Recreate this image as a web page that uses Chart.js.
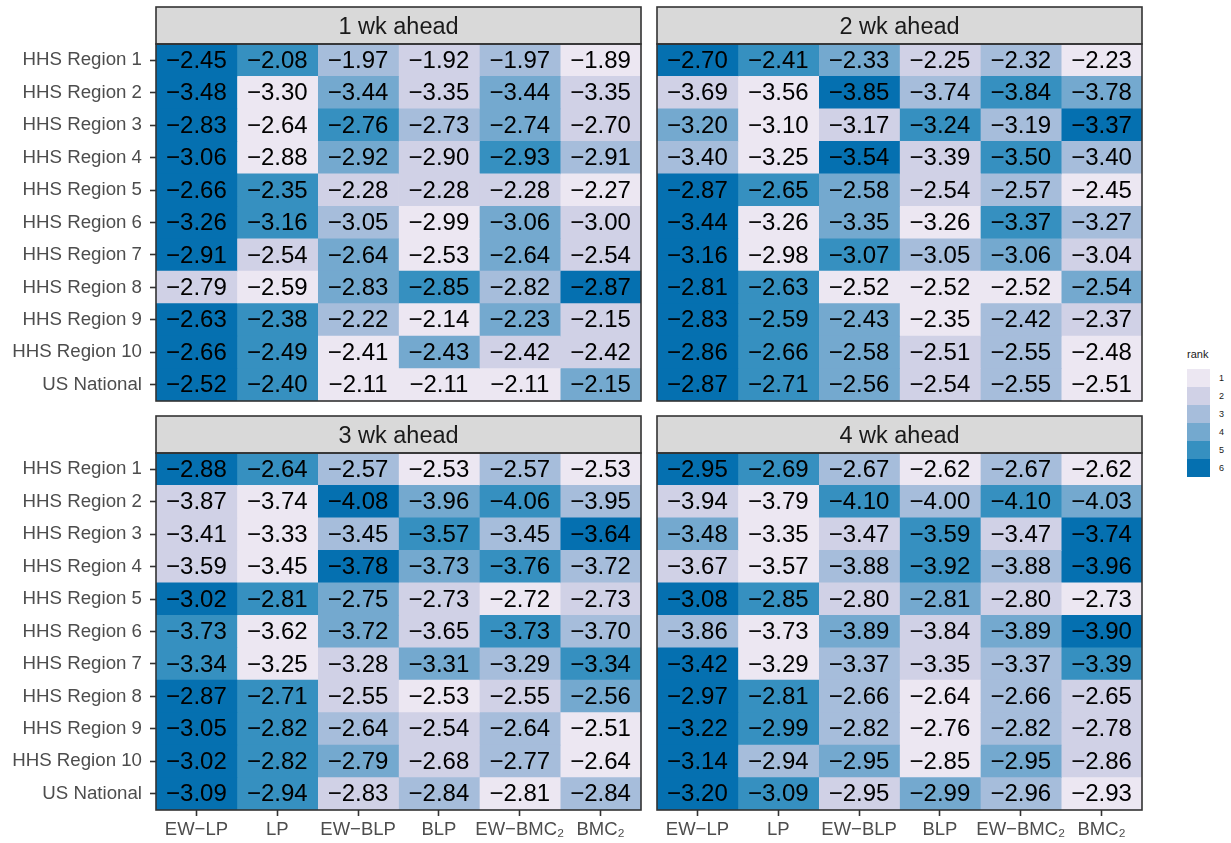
<!DOCTYPE html>
<html>
<head>
<meta charset="utf-8">
<title>Log scores by region and horizon</title>
<script src="https://cdn.jsdelivr.net/npm/chart.js@4.4.1/dist/chart.umd.min.js"></script>
<style>
  html, body { margin: 0; padding: 0; background: #ffffff; }
  body { width: 1231px; height: 843px; position: relative; overflow: hidden;
         font-family: "Liberation Sans", Arial, Helvetica, sans-serif; }
  canvas { position: absolute; }
  #legend { position: absolute; left: 1187px; top: 344px; color: #1a1a1a; }
  #legend .title { font-size: 11px; height: 25px; line-height: 20px; }
  #legend .row { position: relative; height: 18px; }
  #legend .key { position: absolute; left: 0; top: 0; width: 23px; height: 18px; }
  #legend .lab { position: absolute; left: 32px; top: 0; line-height: 18px; font-size: 9px; }
</style>
</head>
<body>
<canvas id="p1" width="650" height="406" style="left:0px;top:0px"></canvas>
<canvas id="p2" width="500" height="406" style="left:650px;top:0px"></canvas>
<canvas id="p3" width="650" height="433" style="left:0px;top:410px"></canvas>
<canvas id="p4" width="500" height="433" style="left:650px;top:410px"></canvas>
<div id="legend"></div>

<script>
// ---- data ----
const METHODS = ['EW\u2212LP', 'LP', 'EW\u2212BLP', 'BLP', 'EW\u2212BMC\u2082', 'BMC\u2082'];
const REGIONS = ['HHS Region 1', 'HHS Region 2', 'HHS Region 3', 'HHS Region 4', 'HHS Region 5',
                 'HHS Region 6', 'HHS Region 7', 'HHS Region 8', 'HHS Region 9', 'HHS Region 10',
                 'US National'];
const HORIZONS = ['1 wk ahead', '2 wk ahead', '3 wk ahead', '4 wk ahead'];

// one row per region, one column per method
const WK1_SCORES = [
  [-2.45, -2.08, -1.97, -1.92, -1.97, -1.89],
  [-3.48, -3.30, -3.44, -3.35, -3.44, -3.35],
  [-2.83, -2.64, -2.76, -2.73, -2.74, -2.70],
  [-3.06, -2.88, -2.92, -2.90, -2.93, -2.91],
  [-2.66, -2.35, -2.28, -2.28, -2.28, -2.27],
  [-3.26, -3.16, -3.05, -2.99, -3.06, -3.00],
  [-2.91, -2.54, -2.64, -2.53, -2.64, -2.54],
  [-2.79, -2.59, -2.83, -2.85, -2.82, -2.87],
  [-2.63, -2.38, -2.22, -2.14, -2.23, -2.15],
  [-2.66, -2.49, -2.41, -2.43, -2.42, -2.42],
  [-2.52, -2.40, -2.11, -2.11, -2.11, -2.15]
];
const WK2_SCORES = [
  [-2.70, -2.41, -2.33, -2.25, -2.32, -2.23],
  [-3.69, -3.56, -3.85, -3.74, -3.84, -3.78],
  [-3.20, -3.10, -3.17, -3.24, -3.19, -3.37],
  [-3.40, -3.25, -3.54, -3.39, -3.50, -3.40],
  [-2.87, -2.65, -2.58, -2.54, -2.57, -2.45],
  [-3.44, -3.26, -3.35, -3.26, -3.37, -3.27],
  [-3.16, -2.98, -3.07, -3.05, -3.06, -3.04],
  [-2.81, -2.63, -2.52, -2.52, -2.52, -2.54],
  [-2.83, -2.59, -2.43, -2.35, -2.42, -2.37],
  [-2.86, -2.66, -2.58, -2.51, -2.55, -2.48],
  [-2.87, -2.71, -2.56, -2.54, -2.55, -2.51]
];
const WK3_SCORES = [
  [-2.88, -2.64, -2.57, -2.53, -2.57, -2.53],
  [-3.87, -3.74, -4.08, -3.96, -4.06, -3.95],
  [-3.41, -3.33, -3.45, -3.57, -3.45, -3.64],
  [-3.59, -3.45, -3.78, -3.73, -3.76, -3.72],
  [-3.02, -2.81, -2.75, -2.73, -2.72, -2.73],
  [-3.73, -3.62, -3.72, -3.65, -3.73, -3.70],
  [-3.34, -3.25, -3.28, -3.31, -3.29, -3.34],
  [-2.87, -2.71, -2.55, -2.53, -2.55, -2.56],
  [-3.05, -2.82, -2.64, -2.54, -2.64, -2.51],
  [-3.02, -2.82, -2.79, -2.68, -2.77, -2.64],
  [-3.09, -2.94, -2.83, -2.84, -2.81, -2.84]
];
const WK4_SCORES = [
  [-2.95, -2.69, -2.67, -2.62, -2.67, -2.62],
  [-3.94, -3.79, -4.10, -4.00, -4.10, -4.03],
  [-3.48, -3.35, -3.47, -3.59, -3.47, -3.74],
  [-3.67, -3.57, -3.88, -3.92, -3.88, -3.96],
  [-3.08, -2.85, -2.80, -2.81, -2.80, -2.73],
  [-3.86, -3.73, -3.89, -3.84, -3.89, -3.90],
  [-3.42, -3.29, -3.37, -3.35, -3.37, -3.39],
  [-2.97, -2.81, -2.66, -2.64, -2.66, -2.65],
  [-3.22, -2.99, -2.82, -2.76, -2.82, -2.78],
  [-3.14, -2.94, -2.95, -2.85, -2.95, -2.86],
  [-3.20, -3.09, -2.95, -2.99, -2.96, -2.93]
];

const RANK_LEVELS = [1, 2, 3, 4, 5, 6];
const RANK_COLORS = ['#ece7f2', '#d0d1e6', '#a6bddb', '#74a9cf', '#3690c0', '#0570b0'];

// ---- helpers ----
const FONT = '"Liberation Sans", Arial, Helvetica, sans-serif';
const STRIP_H = 37;
const CELL_SPAN = 1;   // each method occupies one unit along the x scale

// rank within a region: 1 = highest score, ties share the lowest rank
function rankInRow(row, v) {
  return 1 + row.filter(o => o > v).length;
}
function fmt(v) {
  return v.toFixed(2).replace('-', '\u2212');
}

const cellText = {
  id: 'cellText',
  afterDatasetsDraw(chart) {
    const ctx = chart.ctx;
    ctx.save();
    ctx.font = '24px ' + FONT;
    ctx.fillStyle = '#000000';
    ctx.textAlign = 'center';
    ctx.textBaseline = 'middle';
    chart.data.datasets.forEach((ds, j) => {
      chart.getDatasetMeta(j).data.forEach((bar, i) => {
        const c = bar.getCenterPoint();
        ctx.fillText(fmt(ds.scores[i]), c.x, c.y + 1);
      });
    });
    ctx.restore();
  }
};

const panelFrame = {
  id: 'panelFrame',
  afterDraw(chart, args, opts) {
    const ctx = chart.ctx;
    const a = chart.chartArea;
    ctx.save();
    // strip
    ctx.fillStyle = '#d9d9d9';
    ctx.fillRect(a.left, a.top - STRIP_H, a.right - a.left, STRIP_H);
    ctx.strokeStyle = '#333333';
    ctx.lineWidth = 1.6;
    ctx.strokeRect(a.left, a.top - STRIP_H, a.right - a.left, STRIP_H);
    ctx.fillStyle = '#1a1a1a';
    ctx.font = '23.5px ' + FONT;
    ctx.textAlign = 'center';
    ctx.textBaseline = 'middle';
    ctx.fillText(opts.title, (a.left + a.right) / 2, a.top - STRIP_H / 2 + 2);
    // panel border
    ctx.strokeRect(a.left, a.top, a.right - a.left, a.bottom - a.top);
    ctx.restore();
  }
};

function buildPanel(canvasId, title, scores, showY, showX, padding) {
  const datasets = METHODS.map((m, j) => ({
    label: m,
    data: REGIONS.map(() => CELL_SPAN),
    scores: scores.map(row => row[j]),
    backgroundColor: scores.map(row => RANK_COLORS[rankInRow(row, row[j]) - 1]),
    borderWidth: 0,
    barPercentage: 1,
    categoryPercentage: 1
  }));

  return new Chart(document.getElementById(canvasId), {
    type: 'bar',
    data: { labels: REGIONS, datasets },
    options: {
      indexAxis: 'y',
      responsive: false,
      animation: false,
      devicePixelRatio: 1,
      layout: { padding },
      plugins: {
        legend: { display: false },
        tooltip: { enabled: false },
        panelFrame: { title }
      },
      scales: {
        x: {
          type: 'linear',
          stacked: true,
          min: 0,
          max: METHODS.length,
          display: showX,
          border: { display: false },
          grid: { drawOnChartArea: false, drawTicks: true, tickLength: 6,
                  tickColor: '#333333', tickWidth: 1.6 },
          afterBuildTicks(scale) {
            scale.ticks = METHODS.map((m, j) => ({ value: j + CELL_SPAN / 2 }));
          },
          afterFit(scale) {
            if (showX) scale.height = 33;
            scale.paddingLeft = 0;
            scale.paddingRight = 0;
          },
          ticks: {
            autoSkip: false,
            maxRotation: 0,
            padding: 3,
            color: '#4d4d4d',
            font: { family: FONT, size: 18.5 },
            callback: (v, i) => METHODS[i]
          }
        },
        y: {
          type: 'category',
          stacked: true,
          display: showY,
          border: { display: false },
          grid: { offset: false, drawOnChartArea: false, drawTicks: true, tickLength: 6,
                  tickColor: '#333333', tickWidth: 1.6 },
          afterFit(scale) {
            if (showY) scale.width = 156;
            scale.paddingTop = 0;
            scale.paddingBottom = 0;
          },
          ticks: {
            autoSkip: false,
            padding: 8,
            color: '#4d4d4d',
            font: { family: FONT, size: 18.7 }
          }
        }
      }
    },
    plugins: [cellText, panelFrame]
  });
}

buildPanel('p1', HORIZONS[0], WK1_SCORES, true, false, { top: 44, right: 9, bottom: 5, left: 0 });
buildPanel('p2', HORIZONS[1], WK2_SCORES, false, false, { top: 44, right: 8, bottom: 5, left: 7 });
buildPanel('p3', HORIZONS[2], WK3_SCORES, true, true, { top: 43, right: 9, bottom: 0, left: 0 });
buildPanel('p4', HORIZONS[3], WK4_SCORES, false, true, { top: 43, right: 8, bottom: 0, left: 7 });

// rank legend
const legend = document.getElementById('legend');
const t = document.createElement('div');
t.className = 'title';
t.textContent = 'rank';
legend.appendChild(t);
RANK_LEVELS.forEach((r, k) => {
  const row = document.createElement('div');
  row.className = 'row';
  const key = document.createElement('div');
  key.className = 'key';
  key.style.background = RANK_COLORS[k];
  const lab = document.createElement('div');
  lab.className = 'lab';
  lab.textContent = String(r);
  row.appendChild(key);
  row.appendChild(lab);
  legend.appendChild(row);
});
</script>
</body>
</html>
